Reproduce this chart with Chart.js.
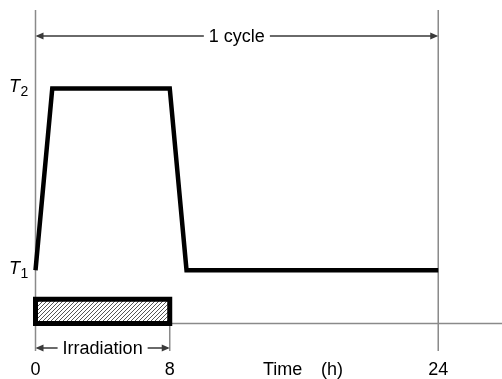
<!DOCTYPE html>
<html>
<head>
<meta charset="utf-8">
<script src="https://cdn.jsdelivr.net/npm/chart.js@4"></script>
<style>
  html, body { margin: 0; padding: 0; background: #fff; }
  #wrap { width: 502px; height: 379px; }
</style>
</head>
<body>
<div id="wrap"><canvas id="cycle-chart"></canvas></div>
<script>
  // temperature levels (relative units of the y scale)
  const T1 = 0.17;
  const T2 = 0.75;

  // temperature profile over one cycle
  const hours = [0, 1, 8, 9, 24];
  const levels = [T1, T2, T2, T1, T1];

  // irradiation period
  const irradiationStart = 0;
  const irradiationEnd = 8;
  const irradiationHeight = 0.077;

  // cycle
  const cycleStart = 0;
  const cycleEnd = 24;

  const tickHours = [0, 8, 24];
  const tickLabels = ["0", "8", "24"];

  const FONT = "18px 'Liberation Sans', Arial, sans-serif";
  const guideColor = "#8a8a8a";
  const arrowColor = "#3a3a3a";

  const makeHatch = () => {
    const c = document.createElement("canvas");
    c.width = 4;
    c.height = 4;
    const g = c.getContext("2d");
    g.fillStyle = "#fff";
    g.fillRect(0, 0, 4, 4);
    g.strokeStyle = "#555";
    g.lineWidth = 1;
    g.beginPath();
    g.moveTo(0, 4);
    g.lineTo(4, 0);
    g.moveTo(-1, 1);
    g.lineTo(1, -1);
    g.moveTo(3, 5);
    g.lineTo(5, 3);
    g.stroke();
    return g.createPattern(c, "repeat");
  };

  const arrowHead = (ctx, x, y, dir) => {
    ctx.beginPath();
    ctx.moveTo(x, y);
    ctx.lineTo(x - dir * 8, y - 3.5);
    ctx.lineTo(x - dir * 8, y + 3.5);
    ctx.closePath();
    ctx.fill();
  };

  const dimension = (ctx, x1, x2, y, label) => {
    const cx = (x1 + x2) / 2;
    const w = ctx.measureText(label).width;
    const gap = 5;
    ctx.strokeStyle = arrowColor;
    ctx.fillStyle = arrowColor;
    ctx.lineWidth = 1.5;
    ctx.beginPath();
    ctx.moveTo(x1 + 2, y);
    ctx.lineTo(cx - w / 2 - gap, y);
    ctx.moveTo(cx + w / 2 + gap, y);
    ctx.lineTo(x2 - 2, y);
    ctx.stroke();
    arrowHead(ctx, x1, y, -1);
    arrowHead(ctx, x2, y, 1);
    ctx.fillStyle = "#000";
    ctx.textAlign = "center";
    ctx.textBaseline = "middle";
    ctx.fillText(label, cx, y + 1);
  };

  const annotations = {
    id: "annotations",
    beforeDatasetsDraw(chart) {
      const { ctx, chartArea, scales } = chart;
      const x = scales.x;
      const y = scales.y;
      const low = chartArea.bottom + 27.5;
      ctx.save();
      ctx.strokeStyle = guideColor;
      ctx.lineWidth = 1.5;
      ctx.beginPath();
      ctx.moveTo(x.getPixelForValue(cycleStart), chartArea.top);
      ctx.lineTo(x.getPixelForValue(cycleStart), low);
      ctx.moveTo(x.getPixelForValue(cycleEnd), chartArea.top);
      ctx.lineTo(x.getPixelForValue(cycleEnd), low);
      ctx.moveTo(x.getPixelForValue(irradiationEnd), y.getPixelForValue(0));
      ctx.lineTo(x.getPixelForValue(irradiationEnd), low);
      ctx.moveTo(chartArea.left, y.getPixelForValue(0));
      ctx.lineTo(chart.width, y.getPixelForValue(0));
      ctx.stroke();
      ctx.restore();
    },
    afterDatasetsDraw(chart) {
      const { ctx, chartArea, scales } = chart;
      const x = scales.x;
      const y = scales.y;
      ctx.save();
      ctx.font = FONT;

      dimension(ctx, x.getPixelForValue(cycleStart), x.getPixelForValue(cycleEnd), chartArea.top + 26, "1 cycle");
      dimension(ctx, x.getPixelForValue(irradiationStart), x.getPixelForValue(irradiationEnd), chartArea.bottom + 24.5, "Irradiation");

      // tick labels
      ctx.fillStyle = "#000";
      ctx.textAlign = "center";
      ctx.textBaseline = "alphabetic";
      tickHours.forEach((h, i) => {
        ctx.fillText(tickLabels[i], x.getPixelForValue(h), chartArea.bottom + 51);
      });
      ctx.textAlign = "left";
      ctx.fillText("Time", 263, chartArea.bottom + 51);
      ctx.textAlign = "right";
      ctx.fillText("(h)", 343, chartArea.bottom + 51);

      // T1 / T2 labels
      [["T", "1", T1], ["T", "2", T2]].forEach(([base, sub, v]) => {
        const py = y.getPixelForValue(v);
        ctx.textAlign = "left";
        ctx.font = "italic 18px 'Liberation Sans', Arial, sans-serif";
        ctx.fillText(base, 9, py + 3.5);
        const w = ctx.measureText(base).width;
        ctx.font = "14px 'Liberation Sans', Arial, sans-serif";
        ctx.fillText(sub, 9 + w + 0.5, py + 8);
      });
      ctx.restore();
    },
  };

  const ctx = document.getElementById("cycle-chart").getContext("2d");

  const chart = new Chart(ctx, {
    type: "scatter",
    data: {
      datasets: [
        {
          data: hours.map((h, i) => ({ x: h, y: levels[i] })),
          showLine: true,
          borderColor: "#000",
          borderWidth: 4.5,
          borderJoinStyle: "miter",
          pointRadius: 0,
          tension: 0,
          clip: false,
          order: 0,
        },
        {
          data: [
            { x: irradiationStart, y: 0 },
            { x: irradiationStart, y: irradiationHeight },
            { x: irradiationEnd, y: irradiationHeight },
            { x: irradiationEnd, y: 0 },
            { x: irradiationStart, y: 0 },
          ],
          showLine: true,
          borderColor: "#000",
          borderWidth: 5,
          borderJoinStyle: "miter",
          borderCapStyle: "square",
          pointRadius: 0,
          tension: 0,
          clip: false,
          order: 1,
        },
        {
          data: [
            { x: irradiationStart, y: irradiationHeight },
            { x: irradiationEnd, y: irradiationHeight },
          ],
          showLine: true,
          fill: "origin",
          backgroundColor: makeHatch(),
          borderWidth: 0,
          pointRadius: 0,
          clip: false,
          order: 2,
        },
      ],
    },
    options: {
      responsive: true,
      maintainAspectRatio: false,
      animation: false,
      layout: {
        padding: { left: 35.5, right: 0, top: 10, bottom: 55.5 },
      },
      plugins: {
        legend: { display: false },
        tooltip: { enabled: false },
      },
      scales: {
        x: { type: "linear", min: 0, max: 27.8, display: false },
        y: { min: 0, max: 1, display: false },
      },
    },
    plugins: [annotations],
  });
</script>
</body>
</html>
